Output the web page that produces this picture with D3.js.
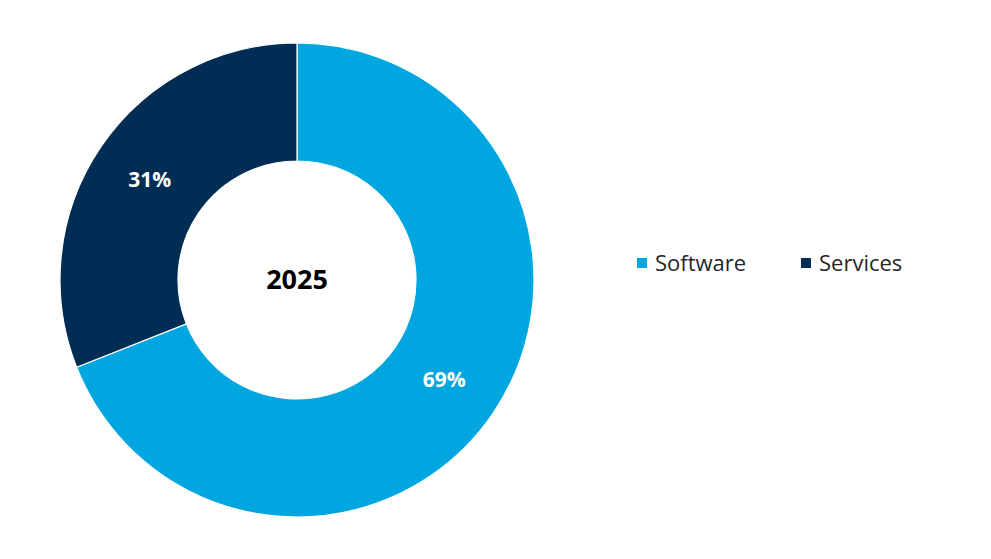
<!DOCTYPE html>
<html>
<head>
<meta charset="utf-8">
<script src="https://cdn.jsdelivr.net/npm/d3@7"></script>
<style>
  html, body { margin: 0; padding: 0; background: #fff; }
  svg { display: block; font-family: "Open Sans", Lato, sans-serif; }
</style>
</head>
<body>
<div id="chart"></div>
<script>
// chart data
const categories = ["Software", "Services"];
const values = [69, 31];
const colors = ["#00A6E0", "#002D54"];
const centerLabel = "2025";

const width = 991, height = 559;
const cx = 297, cy = 280;
const outerR = 237, innerR = 119;

const svg = d3.select("#chart")
  .append("svg")
    .attr("width", width)
    .attr("height", height);

const color = d3.scaleOrdinal()
  .domain(categories)
  .range(colors);

const data = categories.map((c, i) => ({ key: c, value: values[i] }));

const pie = d3.pie()
  .value(d => d.value)
  .sort(null);

const arc = d3.arc()
  .innerRadius(innerR)
  .outerRadius(outerR);

const g = svg.append("g")
  .attr("transform", "translate(" + cx + "," + cy + ")");

const arcs = pie(data);

g.selectAll("path")
  .data(arcs)
  .enter()
  .append("path")
    .attr("d", arc)
    .attr("fill", d => color(d.data.key))
    .attr("stroke", "#fff")
    .attr("stroke-width", 1.2);

// percentage labels
const labelArc = d3.arc()
  .innerRadius((innerR + outerR) / 2)
  .outerRadius((innerR + outerR) / 2);

g.selectAll(".pct")
  .data(arcs)
  .enter()
  .append("text")
    .attr("class", "pct")
    .attr("transform", d => "translate(" + labelArc.centroid(d) + ")")
    .attr("text-anchor", "middle")
    .attr("dy", "0.35em")
    .attr("fill", "#fff")
    .attr("font-weight", "bold")
    .attr("font-size", 21)
    .text(d => d.data.value + "%");

g.append("text")
  .attr("text-anchor", "middle")
  .attr("dy", "0.35em")
  .attr("font-weight", "bold")
  .attr("font-size", 27)
  .attr("fill", "#000")
  .text(centerLabel);

// legend
const legendX = [637, 801];
const legend = svg.append("g")
  .selectAll("g")
  .data(categories)
  .enter()
  .append("g")
    .attr("transform", (d, i) => "translate(" + legendX[i] + "," + 258 + ")");

legend.append("rect")
  .attr("width", 10)
  .attr("height", 10)
  .attr("fill", d => color(d));

legend.append("text")
  .attr("x", 18)
  .attr("y", 5)
  .attr("dy", "0.35em")
  .attr("font-size", 22)
  .attr("fill", "#262626")
  .text(d => d);
</script>
</body>
</html>
